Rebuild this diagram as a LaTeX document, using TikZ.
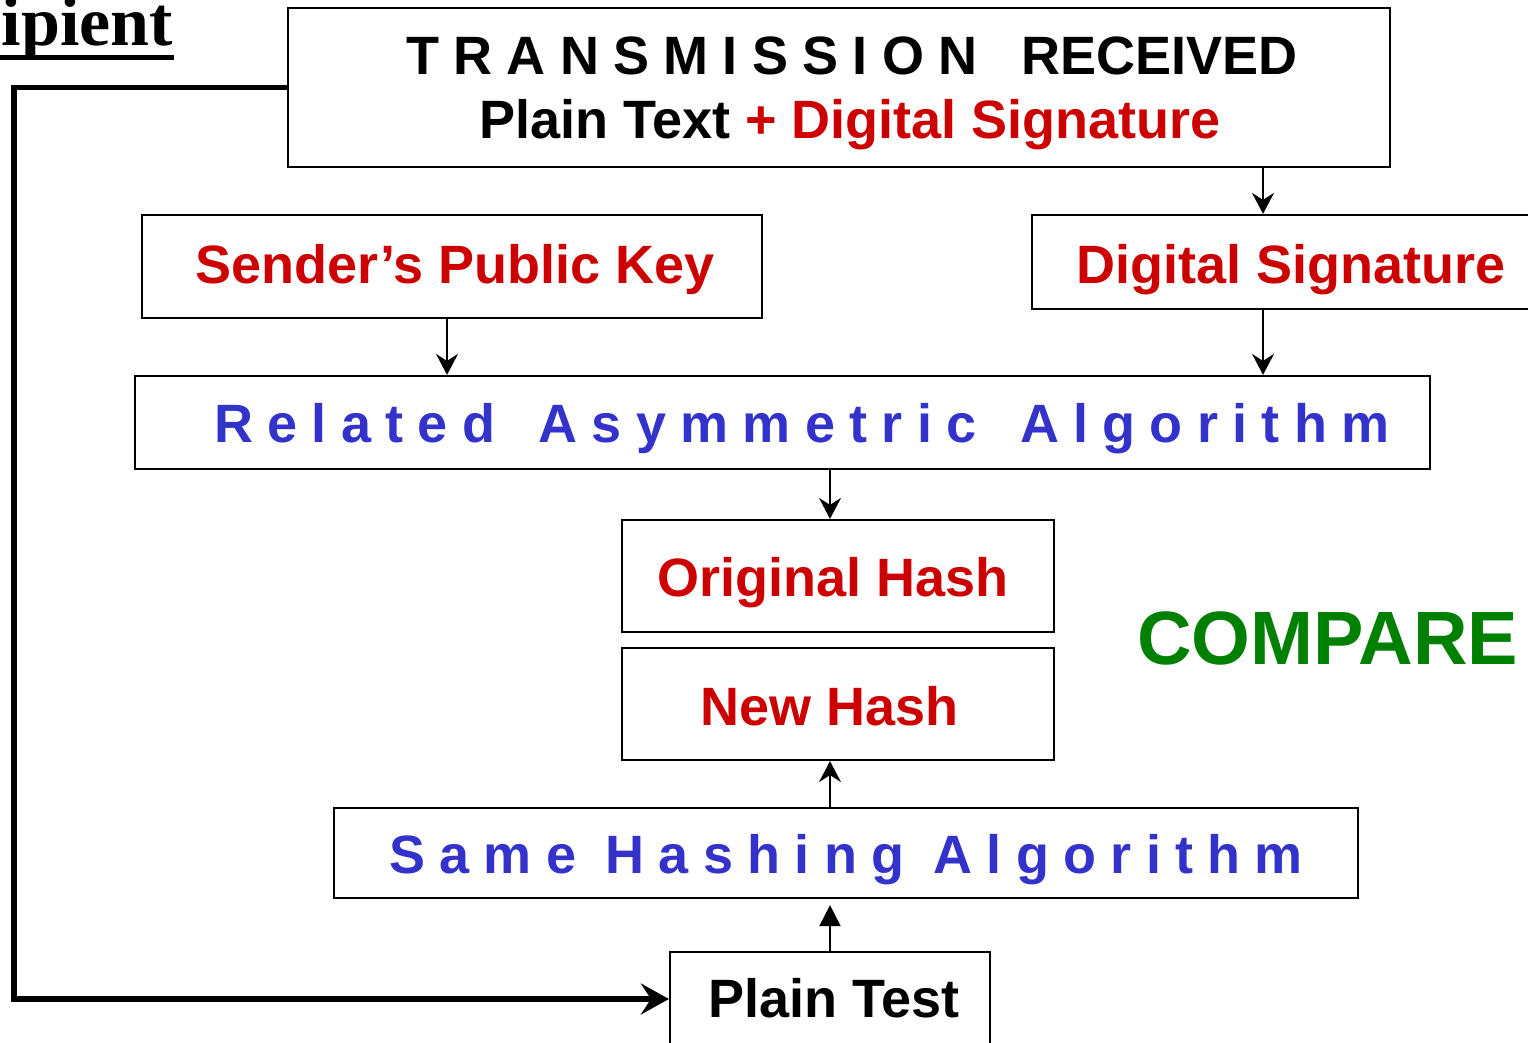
\documentclass[tikz,border=0pt]{standalone}
\usepackage{fontspec}
\setmainfont{Liberation Sans}
\newfontfamily\recfont{Liberation Serif}
\usetikzlibrary{arrows.meta}
\definecolor{sigred}{RGB}{204,0,0}
\definecolor{algblue}{RGB}{51,51,204}
\definecolor{cmpgreen}{RGB}{0,128,0}
% letter-spaced words: every character is followed by \trk
\newlength\trk
\setlength\trk{14.3pt}
\makeatletter
\def\tr#1{\tr@loop#1\relax}
\def\tr@loop#1{\ifx#1\relax\else#1\hspace{\trk}\expandafter\tr@loop\fi}
\makeatother
\begin{document}
\begin{tikzpicture}[x=1pt,y=-1pt,
  box/.style={draw, line width=2.2pt, inner sep=0pt},
  lbl/.style={anchor=base west, inner sep=0pt, font=\fontsize{54}{60}\selectfont\bfseries},
  arr/.style={line width=2pt, -{Stealth[length=21pt,width=22pt,inset=7pt]}},
  tri/.style={line width=2pt, -{Triangle[length=21pt,width=21pt]}, shorten >=6pt},
  flow/.style={line width=5.5pt, -{Stealth[length=28pt,width=31pt,inset=10pt]}}]
\useasboundingbox (0,0) rectangle (1528,1042);
\clip (0,0) rectangle (1528,1042);

% boxes
\node[box, minimum width=1102pt, minimum height=159pt] (top)     at (839,87.5)  {};
\node[box, minimum width=620pt,  minimum height=103pt] (sender)  at (452,266.5) {};
\node[box, minimum width=528pt,  minimum height=94pt]  (dsig)    at (1296,262)  {};
\node[box, minimum width=1295pt, minimum height=93pt]  (related) at (782.5,422.5) {};
\node[box, minimum width=432pt,  minimum height=112pt] (orig)    at (838,576)   {};
\node[box, minimum width=432pt,  minimum height=112pt] (newh)    at (838,704)   {};
\node[box, minimum width=1024pt, minimum height=90pt]  (same)    at (846,853)   {};
\node[box, minimum width=320pt,  minimum height=94pt]  (plain)   at (830,999)   {};

% texts
\node[lbl] (t1) at (406,74) {\tr{TRANSMISSION}\ \hspace{\trk}RECEIVED};
\node[lbl] (t2) at (479,138) {Plain Text \textcolor{sigred}{+ Digital Signature}};
\node[lbl, text=sigred] (tsender) at (195,283) {Sender’s Public Key};
\node[lbl, text=sigred] (tdsig) at (1076,283) {Digital Signature};
\node[lbl, text=algblue] (trel) at (214,442)
  {\tr{Related}\ \hspace{\trk}\tr{Asymmetric}\ \hspace{\trk}\tr{Algorithm}};
\node[lbl, text=sigred] (torig) at (657,596) {Original Hash};
\node[lbl, text=sigred] (tnew) at (700,725) {New Hash};
\node[lbl, text=algblue] (tsame) at (389,873)
  {\tr{Same}\ \tr{Hashing}\ \tr{Algorithm}};
\node[lbl] (tplain) at (708,1017) {Plain Test};
\node[lbl, text=cmpgreen, font=\fontsize{75.6}{80}\selectfont\bfseries] (cmp) at (1137,664) {COMPARE};

% heading (runs past the left edge)
\node[anchor=base east, inner sep=0pt, font=\fontsize{70}{76}\selectfont\recfont\bfseries] (rcp) at (173,45) {Recipient};
\coordinate (ulend) at (174,57.5);
\draw[line width=5pt] (rcp.south west |- ulend) -- (ulend);

% connectors
\coordinate (xr) at (1263,0);
\coordinate (xl) at (447,0);
\coordinate (xm) at (830,0);
\draw[arr] (top.south -| xr) -- (dsig.north -| xr);
\draw[arr] (dsig.south -| xr) -- (related.north -| xr);
\draw[arr] (sender.south -| xl) -- (related.north -| xl);
\draw[arr] (related.south -| xm) -- (orig.north -| xm);
\draw[arr] (same.north -| xm) -- (newh.south -| xm);
\draw[tri] (plain.north -| xm) -- (same.south -| xm);

\coordinate (bend) at (14,87.5);
\draw[flow] (top.west) -- (bend) |- (plain.west);
\end{tikzpicture}
\end{document}
